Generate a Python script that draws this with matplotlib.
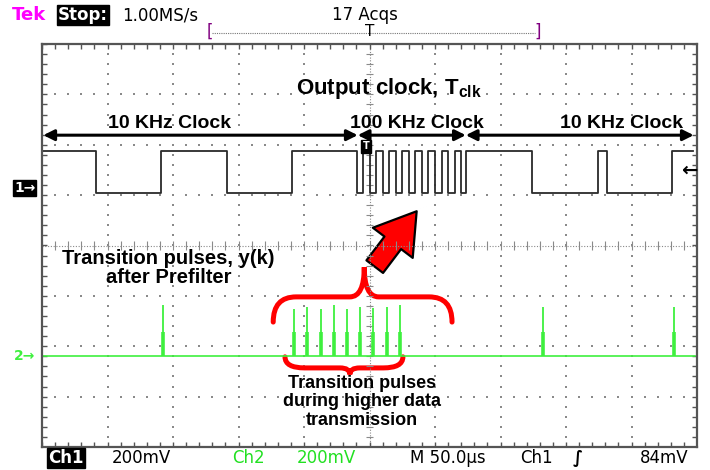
import numpy as np
import matplotlib.pyplot as plt
from matplotlib.path import Path
import matplotlib.patches as mpatches

# --- data (screen divisions: x 0..10, y -4..4) ---
ch1_t = [0.00, 0.82, 1.82, 2.82, 3.82, 4.81, 4.90, 5.00, 5.10, 5.20, 5.30, 5.40,
         5.50, 5.60, 5.70, 5.80, 5.90, 6.00, 6.10, 6.20, 6.30, 6.40, 6.47, 7.48,
         8.49, 8.63, 9.62, 9.94]
ch1_state = [1, 0, 1, 0, 1, 0, 1, 0, 1, 0, 1, 0,
             1, 0, 1, 0, 1, 0, 1, 0, 1, 0, 1, 0,
             1, 0, 1, 1]
ch1_high = 1.88
ch1_low = 1.04

ch2_base = -2.19
ch2_span = [0.0, 9.97]
spike_x = [1.85, 3.85, 4.05, 4.26, 4.46, 4.66, 4.85, 5.05, 5.26, 5.46, 7.65, 9.65]
spike_top = [-1.18, -1.26, -1.22, -1.26, -1.18, -1.26, -1.22, -1.24, -1.22, -1.18, -1.22, -1.22]
spike_mid = -1.72

clock_edges = [0.02, 4.82, 6.47, 9.95]
clock_labels = ['10 KHz Clock', '100 KHz Clock', '10 KHz Clock']

W, H = 710, 470
fig = plt.figure(figsize=(W / 100, H / 100), dpi=100)
fig.patch.set_facecolor('white')
ax = fig.add_axes([42 / W, 23 / H, 655 / W, 403 / H])
ax.set_xlim(0, 10)
ax.set_ylim(-4, 4)
ax.set_xticks([])
ax.set_yticks([])
for s in ax.spines.values():
    s.set_color('#555555')
    s.set_linewidth(1.6)

# graticule
gcol = '#8a8a8a'
fx = np.arange(0, 10.01, 0.2)
fy = np.arange(-4, 4.01, 0.2)
for gx in [1, 2, 3, 4, 6, 7, 8, 9]:
    ax.scatter(np.full(len(fy), gx), fy, s=1.0, c=gcol, marker='s', lw=0)
for gy in [-3, -2, -1, 1, 2, 3]:
    ax.scatter(fx, np.full(len(fx), gy), s=1.0, c=gcol, marker='s', lw=0)
ax.axvline(5, ls=(0, (1, 1.5)), lw=0.8, c=gcol)
ax.axhline(0, ls=(0, (1, 1.5)), lw=0.8, c=gcol)
ax.hlines(fy, 5 - 0.06, 5 + 0.06, lw=0.8, colors=gcol)
ax.vlines(fx, -0.08, 0.08, lw=0.8, colors=gcol)
ax.vlines(fx, 4 - 0.09, 4, lw=1.0, colors='#555555')
ax.vlines(fx, -4, -4 + 0.09, lw=1.0, colors='#555555')
ax.hlines(fy, 0, 0.07, lw=1.0, colors='#555555')
ax.hlines(fy, 10 - 0.07, 10, lw=1.0, colors='#555555')

# channel 1
lev = [ch1_high if s else ch1_low for s in ch1_state]
ax.step(ch1_t, lev, where='post', color='#2a2a2a', lw=1.3)

# channel 2
green = '#3ef03e'
ax.plot(ch2_span, [ch2_base, ch2_base], color=green, lw=1.2)
ax.vlines(spike_x, ch2_base, spike_top, colors=green, lw=1.3)
ax.vlines(spike_x, ch2_base, spike_mid, colors=green, lw=2.6)

# clock arrows and labels
for i, lab in enumerate(clock_labels):
    a, b = clock_edges[i], clock_edges[i + 1]
    ax.annotate('', xy=(a, 2.19), xytext=(b, 2.19),
                arrowprops=dict(arrowstyle='<|-|>', color='black', lw=2.2,
                                mutation_scale=16, shrinkA=0, shrinkB=0))
ax.text(1.95, 2.43, clock_labels[0], ha='center', va='center', fontsize=14,
        weight='bold', family='Liberation Sans')
ax.text(5.73, 2.43, clock_labels[1], ha='center', va='center', fontsize=14,
        weight='bold', family='Liberation Sans')
ax.text(8.85, 2.43, clock_labels[2], ha='center', va='center', fontsize=14,
        weight='bold', family='Liberation Sans')

plt.rcParams['mathtext.fontset'] = 'custom'
plt.rcParams['mathtext.bf'] = 'Liberation Sans:bold'
plt.rcParams['mathtext.rm'] = 'Liberation Sans'
ax.text(5.3, 3.12, r'Output clock, T$_{\mathbf{clk}}$', ha='center', va='center',
        fontsize=16, weight='bold', family='Liberation Sans')

ax.text(1.93, -0.25, 'Transition pulses, y(k)', ha='center', va='center',
        fontsize=14.5, weight='bold', family='Liberation Sans')
ax.text(1.93, -0.64, 'after Prefilter', ha='center', va='center',
        fontsize=14.5, weight='bold', family='Liberation Sans')
for j, line in enumerate(['Transition pulses', 'during higher data', 'transmission']):
    ax.text(4.89, -2.73 - 0.375 * j, line, ha='center', va='center',
            fontsize=13, weight='bold', family='Liberation Sans')


def brace(x0, x1, xc, y_end, y_mid, y_tip, r, rc):
    v = [(x0, y_end), (x0, y_mid), (x0 + r, y_mid),
         (xc - rc, y_mid), (xc, y_mid), (xc, y_tip),
         (xc, y_mid), (xc + rc, y_mid),
         (x1 - r, y_mid), (x1, y_mid), (x1, y_end)]
    c = [Path.MOVETO, Path.CURVE3, Path.CURVE3,
         Path.LINETO, Path.CURVE3, Path.CURVE3,
         Path.CURVE3, Path.CURVE3,
         Path.LINETO, Path.CURVE3, Path.CURVE3]
    return mpatches.PathPatch(Path(v, c), fill=False, ec='red', lw=3.6,
                              capstyle='round')


ax.add_patch(brace(3.53, 6.26, 4.92, -1.52, -1.02, -0.43, 0.35, 0.22))
ax.add_patch(brace(3.71, 5.51, 4.70, -2.21, -2.43, -2.56, 0.3, 0.15))

arrow = mpatches.FancyArrowPatch((5.08, -0.42), (5.72, 0.68),
                                 arrowstyle='simple,head_width=2.4,head_length=1.9,tail_width=1.0',
                                 mutation_scale=15, fc='red', ec='black', lw=1.6,
                                 shrinkA=0, shrinkB=0)
ax.add_patch(arrow)

# trigger position marker on ch1
ax.text(4.95, 1.97, 'T', ha='center', va='center', fontsize=7, color='white',
        weight='bold', bbox=dict(fc='black', ec='black', pad=1.2))


def ftext(px, py, s, **kw):
    fig.text(px / W, 1 - py / H, s, va='center', **kw)


# header
ftext(12, 15, 'Tek', color='#ff00ff', fontsize=13, weight='bold')
ftext(58, 15, 'Stop:', color='white', fontsize=12, weight='bold',
      bbox=dict(fc='black', ec='black', pad=0.8))
ftext(122, 15, '1.00MS/s', color='black', fontsize=12)
ftext(365, 15, '17 Acqs', color='black', fontsize=12, ha='center')
ftext(207, 32, '[', color='#800080', fontsize=12)
ftext(534, 32, ']', color='#800080', fontsize=12)
fig.add_artist(plt.Line2D([212 / W, 535 / W], [1 - 33 / H, 1 - 33 / H],
                          color='#777777', lw=0.8, ls=(0, (1, 1))))
ftext(370, 31, 'T', color='black', fontsize=11, ha='center')

# channel / trigger markers
ftext(14, 188, '1\u2192', color='white', fontsize=10, weight='bold',
      bbox=dict(fc='black', ec='black', pad=0.5))
ftext(14, 356, '2\u2192', color=green, fontsize=10, weight='bold')
ftext(681, 170, '\u2190', color='black', fontsize=14, weight='bold')

# footer
ftext(48, 458, 'Ch1', color='white', fontsize=12, weight='bold',
      bbox=dict(fc='black', ec='black', pad=0.8))
ftext(112, 458, '200mV', color='black', fontsize=12)
ftext(232, 458, 'Ch2', color='#22e022', fontsize=12)
ftext(297, 458, '200mV', color='#22e022', fontsize=12)
ftext(410, 458, 'M 50.0\u00b5s', color='black', fontsize=12)
ftext(520, 458, 'Ch1', color='black', fontsize=12)
ftext(573, 458, '\u222b', color='black', fontsize=12, weight='bold')
ftext(640, 458, '84mV', color='black', fontsize=12)

fig.savefig('out.png', dpi=100)
